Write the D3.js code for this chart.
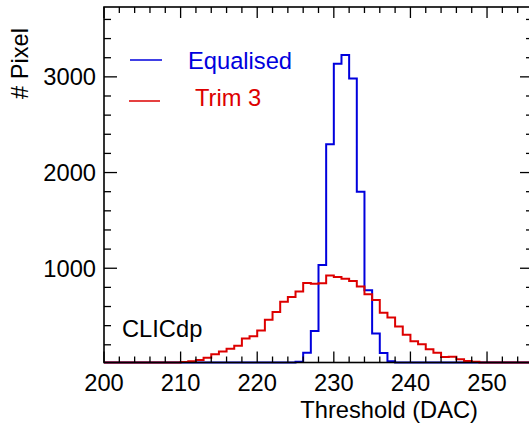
<!DOCTYPE html>
<html>
<head>
<meta charset="utf-8">
<script src="https://cdn.jsdelivr.net/npm/d3@7"></script>
<style>
  html, body { margin: 0; padding: 0; background: #fff; }
  svg { display: block; }
  text { font-family: "Liberation Sans", Arial, Helvetica, sans-serif; }
</style>
</head>
<body>
<svg id="chart" width="529" height="431"></svg>
<script>
// ---- data ----
const binStarts = d3.range(200, 256); // 1-DAC bins, 200..255
const equalised = [
  0,0,0,0,0,0,0,0,0,0,
  0,0,0,0,0,0,0,0,0,0,
  0,0,1,3,6,22,118,345,1035,2296,
  3138,3229,2982,1800,770,317,115,28,6,2,
  0,0,0,0,0,0,0,0,0,0,
  0,0,0,0,0,0
];
const trim3 = [
  2,2,3,3,4,5,6,8,10,14,
  20,28,40,65,100,130,158,190,265,290,
  350,463,543,650,700,758,845,838,842,923,
  909,891,867,808,728,668,536,486,392,306,
  236,206,154,118,72,76,50,31,22,15,
  10,7,5,4,3,2
];
const xTickLabels = [200, 210, 220, 230, 240, 250];
const yTickLabels = [1000, 2000, 3000];
const seriesNames = ["Equalised", "Trim 3"];
const seriesColors = ["#0000dd", "#dd0000"];

// ---- layout ----
const svg = d3.select("#chart");
const pL = 104, pR = 533, pT = 7, pB = 362.5;
const x = d3.scaleLinear().domain([200, 256]).range([pL, pR]);
const y = d3.scaleLinear().domain([15, 3730]).range([pB, pT]).clamp(true);
const fontSize = 23.7;

// histograms (blue first, red on top)
const line = d3.line().x(d => x(d[0])).y(d => y(d[1])).curve(d3.curveStepAfter);
function pts(vals) {
  const p = binStarts.map((b, i) => [b, vals[i]]);
  p.push([256, vals[vals.length - 1]]);
  return p;
}
[[equalised, seriesColors[0]], [trim3, seriesColors[1]]].forEach(([vals, col]) => {
  svg.append("path").attr("d", line(pts(vals)))
    .attr("fill", "none").attr("stroke", col).attr("stroke-width", 2);
});

// frame
const g = svg.append("g");
g.append("rect").attr("x", pL).attr("y", pT).attr("width", pR - pL).attr("height", pB - pT)
  .attr("fill", "none").attr("stroke", "#000").attr("stroke-width", 1.6);

// x ticks (bottom & top)
const xMinor = d3.range(200, 257, 2);
xMinor.forEach(v => {
  const major = v % 10 === 0;
  const len = major ? 11 : 6;
  g.append("line").attr("x1", x(v)).attr("x2", x(v)).attr("y1", pB).attr("y2", pB - len)
    .attr("stroke", "#000").attr("stroke-width", 1.3);
  g.append("line").attr("x1", x(v)).attr("x2", x(v)).attr("y1", pT).attr("y2", pT + len)
    .attr("stroke", "#000").attr("stroke-width", 1.3);
});
// y ticks (left & right)
const yMinor = d3.range(200, 3730, 200);
yMinor.forEach(v => {
  const major = v % 1000 === 0;
  const len = major ? 13 : 7;
  g.append("line").attr("x1", pL).attr("x2", pL + len).attr("y1", y(v)).attr("y2", y(v))
    .attr("stroke", "#000").attr("stroke-width", 1.3);
  g.append("line").attr("x1", pR).attr("x2", pR - len).attr("y1", y(v)).attr("y2", y(v))
    .attr("stroke", "#000").attr("stroke-width", 1.3);
});

// tick labels
g.selectAll(".xl").data(xTickLabels).enter().append("text")
  .attr("x", d => x(d)).attr("y", 391).attr("text-anchor", "middle")
  .attr("font-size", fontSize).attr("fill", "#000").text(d => d);
g.selectAll(".yl").data(yTickLabels).enter().append("text")
  .attr("x", 96).attr("y", d => y(d)).attr("dy", "0.35em").attr("text-anchor", "end")
  .attr("font-size", fontSize).attr("fill", "#000").text(d => d);

// axis titles
svg.append("text").attr("x", 478).attr("y", 418).attr("text-anchor", "end")
  .attr("font-size", fontSize).attr("fill", "#000").text("Threshold (DAC)");
svg.append("text").attr("transform", "translate(28,28) rotate(-90)").attr("text-anchor", "end")
  .attr("font-size", fontSize).attr("fill", "#000").text("# Pixel");

// legend
const legend = [
  { name: seriesNames[0], color: seriesColors[0], lx1: 130, lx2: 162, ly: 60, tx: 188, ty: 69 },
  { name: seriesNames[1], color: seriesColors[1], lx1: 129, lx2: 160, ly: 101, tx: 195, ty: 106 }
];
legend.forEach(l => {
  svg.append("line").attr("x1", l.lx1).attr("x2", l.lx2).attr("y1", l.ly).attr("y2", l.ly)
    .attr("stroke", l.color).attr("stroke-width", 1.5);
  svg.append("text").attr("x", l.tx).attr("y", l.ty).attr("font-size", fontSize)
    .attr("fill", l.color).text(l.name);
});

// label
svg.append("text").attr("x", 122).attr("y", 337).attr("font-size", fontSize)
  .attr("fill", "#000").text("CLICdp");
</script>
</body>
</html>
